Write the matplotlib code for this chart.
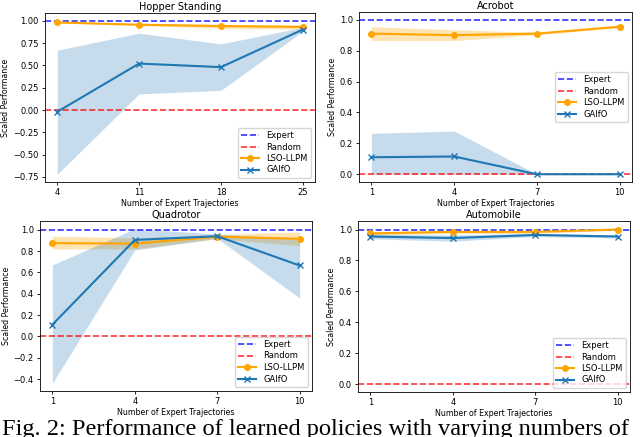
import matplotlib.pyplot as plt

titles = ["Hopper Standing", "Acrobot", "Quadrotor", "Automobile"]
x_vals = [[4, 11, 18, 25], [1, 4, 7, 10], [1, 4, 7, 10], [1, 4, 7, 10]]

lso_mean = [[0.98, 0.955, 0.94, 0.93],
            [0.91, 0.90, 0.91, 0.955],
            [0.875, 0.87, 0.935, 0.915],
            [0.975, 0.985, 0.985, 1.0]]
lso_low = [[0.975, 0.945, 0.915, 0.905],
           [0.865, 0.865, 0.903, 0.948],
           [0.82, 0.82, 0.915, 0.85],
           [0.965, 0.975, 0.975, 0.995]]
lso_high = [[0.985, 0.965, 0.96, 0.95],
            [0.955, 0.935, 0.918, 0.962],
            [0.94, 0.925, 0.955, 0.98],
            [0.985, 0.995, 0.995, 1.005]]

gaifo_mean = [[-0.02, 0.52, 0.48, 0.90],
              [0.11, 0.115, 0.0, 0.0],
              [0.11, 0.905, 0.94, 0.665],
              [0.955, 0.945, 0.965, 0.955]]
gaifo_low = [[-0.72, 0.18, 0.22, 0.88],
             [0.0, 0.0, 0.0, 0.0],
             [-0.44, 0.81, 0.92, 0.36],
             [0.94, 0.925, 0.955, 0.945]]
gaifo_high = [[0.67, 0.86, 0.74, 0.925],
              [0.265, 0.28, 0.0, 0.0],
              [0.67, 1.01, 0.96, 0.92],
              [0.97, 0.965, 0.975, 0.965]]

legend_locs = ["lower right", "center right", "lower right", "lower right"]
yticks = [[-0.75, -0.5, -0.25, 0.0, 0.25, 0.5, 0.75, 1.0],
          [0.0, 0.2, 0.4, 0.6, 0.8, 1.0],
          [-0.4, -0.2, 0.0, 0.2, 0.4, 0.6, 0.8, 1.0],
          [0.0, 0.2, 0.4, 0.6, 0.8, 1.0]]
yfmt = ["{:.2f}", "{:.1f}", "{:.1f}", "{:.1f}"]

# axes boxes in pixels: left, top, right, bottom
boxes = [(45, 13, 315, 182), (359, 12, 632, 182),
         (40, 221, 312, 391), (358, 221, 630, 392)]

W, H = 640, 437
fig = plt.figure(figsize=(W / 100, H / 100), dpi=100)

for i in range(4):
    l, t, r, b = boxes[i]
    ax = fig.add_axes([l / W, (H - b) / H, (r - l) / W, (b - t) / H])
    x = x_vals[i]
    ax.axhline(1.0, color="blue", linestyle="--", alpha=0.8, lw=1.2, label="Expert")
    ax.axhline(0.0, color="red", linestyle="--", alpha=0.8, lw=1.2, label="Random")
    ax.plot(x, lso_mean[i], color="orange", marker="o", ms=4, lw=1.5, label="LSO-LLPM")
    ax.fill_between(x, lso_low[i], lso_high[i], color="orange", alpha=0.3, lw=0)
    ax.plot(x, gaifo_mean[i], color="#1f77b4", marker="x", ms=4, lw=1.5, label="GAIfO")
    ax.fill_between(x, gaifo_low[i], gaifo_high[i], color="#1f77b4", alpha=0.25, lw=0)
    ax.set_xticks(x)
    ax.set_yticks(yticks[i])
    ax.set_yticklabels([yfmt[i].format(v).replace("-", "\u2212") for v in yticks[i]])
    ax.tick_params(labelsize=6, length=2.5, width=0.6, pad=2)
    for s in ax.spines.values():
        s.set_linewidth(0.6)
    ax.set_title(titles[i], fontsize=7, pad=2)
    ax.set_xlabel("Number of Expert Trajectories", fontsize=5.7, labelpad=1.5)
    ax.set_ylabel("Scaled Performance", fontsize=5.7, labelpad=2)
    ax.legend(loc=legend_locs[i], fontsize=6, handlelength=2.2, borderpad=0.4,
              labelspacing=0.3, framealpha=0.8)

# figure caption, cut off by the bottom edge as in the source image
fig.text(0.003, 2 / H, "Fig. 2: Performance of learned policies with varying numbers of",
         fontsize=17.6, family="Liberation Serif", ha="left", va="baseline")

fig.savefig("out.png", dpi=100)
